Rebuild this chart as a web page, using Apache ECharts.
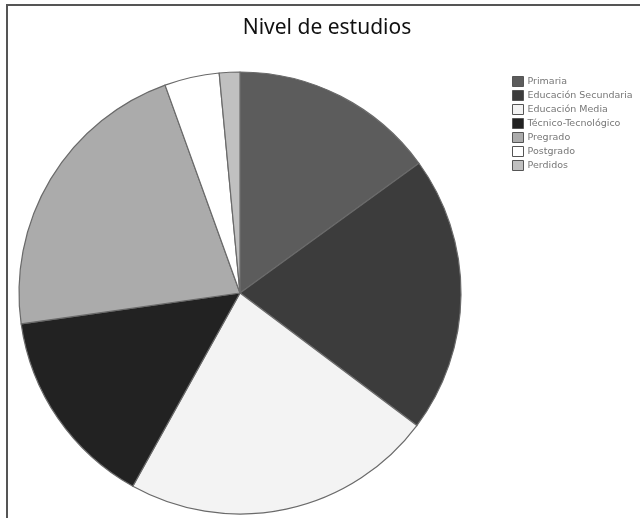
<!DOCTYPE html>
<html>
<head>
<meta charset="utf-8">
<script src="https://cdn.jsdelivr.net/npm/echarts@6/dist/echarts.min.js"></script>
<style>
  html, body { margin: 0; padding: 0; background: #fff; }
  #chart { width: 640px; height: 518px; }
</style>
</head>
<body>
<div id="chart"></div>
<script>
const categories = ['Primaria', 'Educación Secundaria', 'Educación Media', 'Técnico-Tecnológico', 'Pregrado', 'Postgrado', 'Perdidos'];
const shares = [15.0, 20.2, 22.8, 14.7, 21.7, 4.0, 1.5];
const sliceColors = ['#5c5c5c', '#3c3c3c', '#f3f3f3', '#222222', '#ababab', '#ffffff', '#c0c0c0'];

const chart = echarts.init(document.getElementById('chart'));
chart.setOption({
  animation: false,
  title: {
    text: 'Nivel de estudios',
    left: 322,
    textAlign: 'center',
    top: 13,
    textStyle: { fontFamily: 'Noto Sans', fontSize: 21, fontWeight: 'normal', color: '#111' }
  },
  legend: {
    orient: 'vertical',
    left: 507,
    top: 71,
    itemWidth: 11,
    itemHeight: 10,
    itemGap: 3,
    icon: 'rect',
    selectedMode: false,
    itemStyle: { borderColor: '#555', borderWidth: 1 },
    textStyle: { fontFamily: 'DejaVu Sans', fontSize: 9.5, color: '#777', lineHeight: 11, padding: [0, 0, 0, -1] },
    data: categories
  },
  graphic: [{
    type: 'rect',
    shape: { x: 7, y: 5, width: 700, height: 600 },
    style: { fill: 'none', stroke: '#555', lineWidth: 2 },
    silent: true
  }],
  series: [{
    type: 'pie',
    center: [240, 293],
    radius: 221,
    startAngle: 90,
    clockwise: true,
    label: { show: false },
    labelLine: { show: false },
    emphasis: { disabled: true },
    itemStyle: { borderColor: '#6a6a6a', borderWidth: 1.2 },
    data: categories.map((name, i) => ({
      name,
      value: shares[i],
      itemStyle: { color: sliceColors[i] }
    }))
  }]
});
</script>
</body>
</html>
